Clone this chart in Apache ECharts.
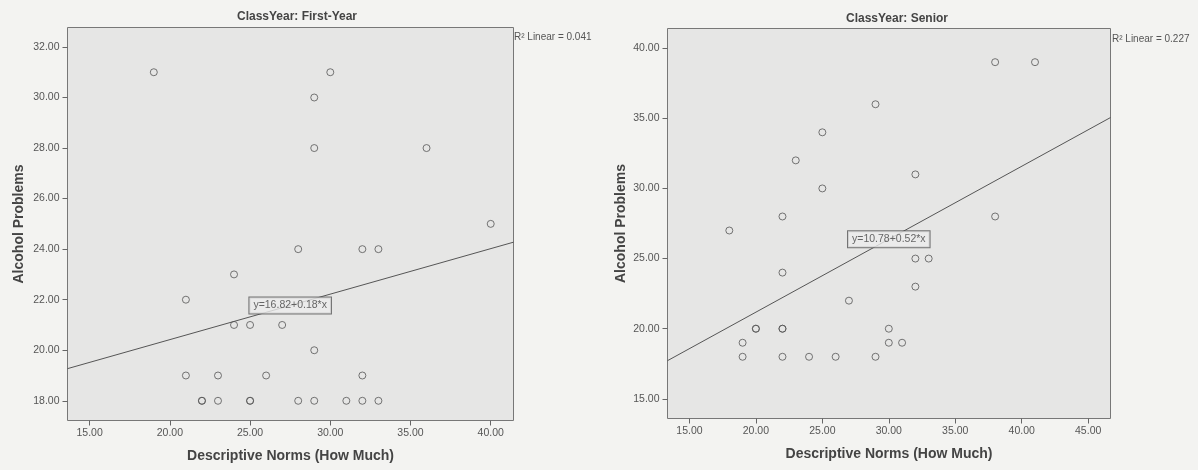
<!DOCTYPE html>
<html><head><meta charset="utf-8">
<script src="https://cdn.jsdelivr.net/npm/echarts@6/dist/echarts.min.js"></script>
<style>html,body{margin:0;padding:0;background:#f3f3f1;}#c{width:1198px;height:470px;}</style>
</head><body><div id="c"></div>
<script>
// ---- data ----
const panelTitles = ['ClassYear: First-Year', 'ClassYear: Senior'];
const xName = 'Descriptive Norms (How Much)';
const yName = 'Alcohol Problems';
const firstYearX = [19,30,29,29,36,40,28,32,33,24,21,24,25,27,29,21,23,26,32,22,22,23,25,25,28,29,31,32,33];
const firstYearY = [31,31,30,28,28,25,24,24,24,23,22,21,21,21,20,19,19,19,19,18,18,18,18,18,18,18,18,18,18];
const seniorX = [38,41,29,25,23,32,25,22,38,18,32,33,22,32,27,20,20,22,22,30,19,30,31,19,22,24,26,29];
const seniorY = [39,39,36,34,32,31,30,28,28,27,25,25,24,23,22,20,20,20,20,20,19,19,19,18,18,18,18,18];
const intercepts = [16.82, 10.78];
const slopes = [0.18, 0.52];
const r2Linear = [0.041, 0.227];
const eqLabelX = [27.5, 30];
const xTicksFirst = [15, 20, 25, 30, 35, 40];
const yTicksFirst = [18, 20, 22, 24, 26, 28, 30, 32];
const xTicksSenior = [15, 20, 25, 30, 35, 40, 45];
const yTicksSenior = [15, 20, 25, 30, 35, 40];

// ---- layout ----
const xRanges = [[13.62, 41.42], [13.35, 46.68]];
const yRanges = [[17.22, 32.77], [13.6, 41.4]];
const FONT = 'Liberation Sans';
const fmt = v => v.toFixed(2);

function zip(a, b) { return a.map((v, i) => [v, b[i]]); }

function xAxis(i, ticks) {
  return {
    type: 'value', gridIndex: i, min: xRanges[i][0], max: xRanges[i][1],
    name: xName, nameLocation: 'middle', nameGap: 29,
    nameTextStyle: { fontFamily: FONT, fontSize: 14, fontWeight: 'bold', color: '#444' },
    axisLine: { show: false },
    axisTick: { show: true, length: 5, lineStyle: { color: '#666' }, customValues: ticks },
    axisLabel: { customValues: ticks, formatter: fmt, fontFamily: FONT, fontSize: 10.5, color: '#555', margin: 7 },
    splitLine: { show: false }
  };
}
function yAxis(i, ticks, gap) {
  return {
    type: 'value', gridIndex: i, min: yRanges[i][0], max: yRanges[i][1],
    name: yName, nameLocation: 'middle', nameGap: gap,
    nameTextStyle: { fontFamily: FONT, fontSize: 14, fontWeight: 'bold', color: '#444' },
    axisLine: { show: false },
    axisTick: { show: true, length: 5, lineStyle: { color: '#666' }, customValues: ticks },
    axisLabel: { customValues: ticks, formatter: fmt, fontFamily: FONT, fontSize: 10.5, color: '#555', margin: 8 },
    splitLine: { show: false }
  };
}
function scatter(i, data) {
  return {
    type: 'scatter', xAxisIndex: i, yAxisIndex: i, data: data, symbol: 'circle', symbolSize: 7,
    itemStyle: { color: 'rgba(0,0,0,0)', borderColor: '#555', borderWidth: 1 }, z: 3, silent: true
  };
}
function fitLine(i) {
  const a = intercepts[i], b = slopes[i], r = xRanges[i];
  return {
    type: 'line', xAxisIndex: i, yAxisIndex: i, showSymbol: false, silent: true,
    data: [[r[0], a + b * r[0]], [r[1], a + b * r[1]]],
    lineStyle: { color: '#555', width: 1 }, z: 2
  };
}
function eqLabel(i) {
  const x = eqLabelX[i];
  return {
    type: 'scatter', xAxisIndex: i, yAxisIndex: i, symbolSize: 0, silent: true, z: 5,
    data: [[x, intercepts[i] + slopes[i] * x]],
    label: {
      show: true, position: 'inside',
      formatter: 'y=' + intercepts[i].toFixed(2) + '+' + slopes[i].toFixed(2) + '*x',
      fontFamily: FONT, fontSize: 10.5, color: '#444',
      backgroundColor: '#ececec', borderColor: '#555', borderWidth: 1, padding: [3, 4, 2, 4]
    }
  };
}

const chart = echarts.init(document.getElementById('c'), null, { renderer: 'canvas' });
chart.setOption({
  animation: false,
  backgroundColor: '#f3f3f1',
  title: [
    { text: panelTitles[0], left: 297, top: 10.5, textAlign: 'center', padding: 0,
      textStyle: { fontFamily: FONT, fontSize: 12, fontWeight: 'bold', color: '#444' } },
    { text: panelTitles[1], left: 897, top: 12.5, textAlign: 'center', padding: 0,
      textStyle: { fontFamily: FONT, fontSize: 12, fontWeight: 'bold', color: '#444' } }
  ],
  graphic: [
    { type: 'text', x: 514, y: 37.5, style: { text: 'R² Linear = ' + r2Linear[0].toFixed(3), font: '10px "Liberation Sans"', fill: '#555', verticalAlign: 'middle' } },
    { type: 'text', x: 1112, y: 39, style: { text: 'R² Linear = ' + r2Linear[1].toFixed(3), font: '10px "Liberation Sans"', fill: '#555', verticalAlign: 'middle' } }
  ],
  grid: [
    { left: 67.5, top: 27.5, width: 446, height: 393, show: true, backgroundColor: '#e6e6e5', borderColor: '#777', borderWidth: 1 },
    { left: 667.5, top: 28.5, width: 443, height: 390, show: true, backgroundColor: '#e6e6e5', borderColor: '#777', borderWidth: 1 }
  ],
  xAxis: [xAxis(0, xTicksFirst), xAxis(1, xTicksSenior)],
  yAxis: [yAxis(0, yTicksFirst, 41), yAxis(1, yTicksSenior, 39)],
  series: [
    scatter(0, zip(firstYearX, firstYearY)), fitLine(0), eqLabel(0),
    scatter(1, zip(seniorX, seniorY)), fitLine(1), eqLabel(1)
  ]
});
</script>
</body></html>
